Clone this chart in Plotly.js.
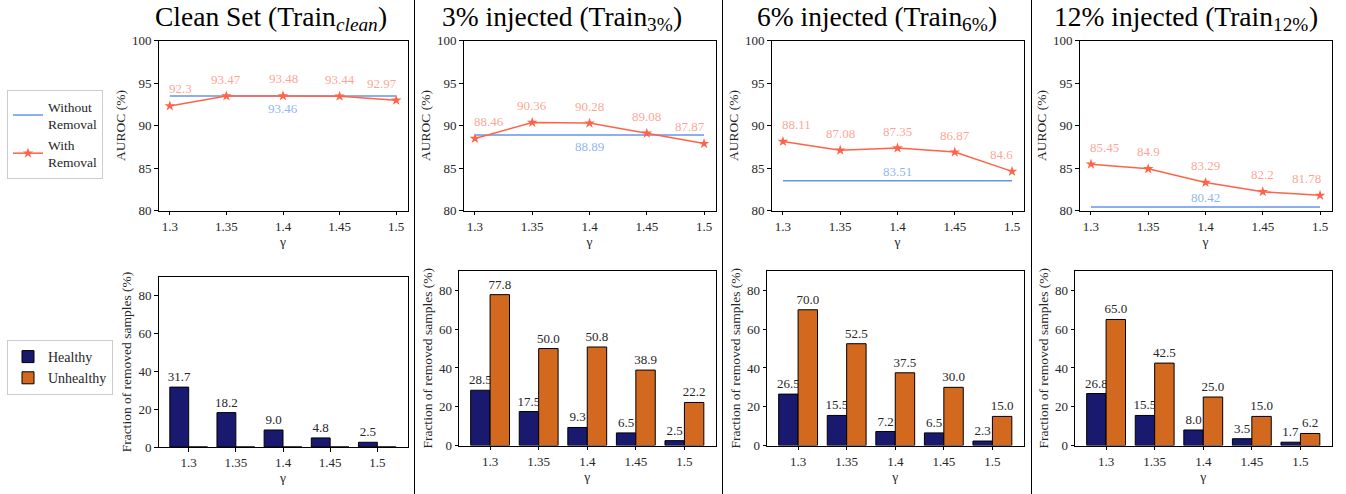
<!DOCTYPE html>
<html>
<head>
<meta charset="utf-8">
<script src="https://cdn.plot.ly/plotly-3.0.1.min.js"></script>
<style>html,body{margin:0;padding:0;background:#fff;}#chart{width:1346px;height:494px;}</style>
</head>
<body>
<div id="chart"></div>
<script>
// ---- data ----
const gammas = [1.3, 1.35, 1.4, 1.45, 1.5];
const gammaLabels = ['1.3', '1.35', '1.4', '1.45', '1.5'];
const titleMain = ['Clean Set (Train', '3% injected (Train', '6% injected (Train', '12% injected (Train'];
const titleSub = ['clean', '3%', '6%', '12%'];
const titleSubItalic = [true, false, false, false];
const titleEnd = [')', ')', ')', ')'];
const withoutRemoval = [93.46, 88.89, 83.51, 80.42];
const withRemovalClean = [92.3, 93.47, 93.48, 93.44, 92.97];
const withRemoval3 = [88.46, 90.36, 90.28, 89.08, 87.87];
const withRemoval6 = [88.11, 87.08, 87.35, 86.87, 84.6];
const withRemoval12 = [85.45, 84.9, 83.29, 82.2, 81.78];
const healthyClean = [31.7, 18.2, 9.0, 4.8, 2.5];
const unhealthyClean = [0, 0, 0, 0, 0];
const healthy3 = [28.5, 17.5, 9.3, 6.5, 2.5];
const unhealthy3 = [77.8, 50.0, 50.8, 38.9, 22.2];
const healthy6 = [26.5, 15.5, 7.2, 6.5, 2.3];
const unhealthy6 = [70.0, 52.5, 37.5, 30.0, 15.0];
const healthy12 = [26.8, 15.5, 8.0, 3.5, 1.7];
const unhealthy12 = [65.0, 42.5, 25.0, 15.0, 6.2];
const aurocTicks = [80, 85, 90, 95, 100];
const fracTicks = [0, 20, 40, 60, 80];

const withRemoval = [withRemovalClean, withRemoval3, withRemoval6, withRemoval12];
const healthy = [healthyClean, healthy3, healthy6, healthy12];
const unhealthy = [unhealthyClean, unhealthy3, unhealthy6, unhealthy12];

// ---- styling / layout ----
const W = 1346, H = 494;
const FAMILY = 'Liberation Serif';
const FONT = '"Liberation Serif", "Times New Roman", serif';
const BLUE = '#6495ED', ORANGE = '#FF6347';
const BLUE_T = 'rgba(100,149,237,0.72)', ORANGE_T = 'rgba(255,99,71,0.6)';
const NAVY = '#191970', CHOC = '#D2691E';
const TXT = '#262626';
const TITLE_SIZE = 27.5, SUB_SIZE = 19.25;
const px = v => v / W;
const py = v => 1 - v / H;

const topX = [[158.5, 407.5], [463.5, 715.5], [771.5, 1023.5], [1079.5, 1331.5]];
const botX = [[158.5, 407.5], [459, 715.5], [767, 1023.5], [1075, 1331.5]];
const topY = [40.5, 210.5];
const botY = [[277, 447], [271, 445.5], [271, 445.5], [271, 445.5]];
const titleCX = [270, 561, 876, 1185];
const sepX = [414.5, 722.5, 1031.5];

const ctx = document.createElement('canvas').getContext('2d');
function textWidth(s, size, italic) {
  ctx.font = (italic ? 'italic ' : '') + size + 'px "' + FAMILY + '", serif';
  return ctx.measureText(s).width;
}

const traces = [];
const layout = {
  width: W, height: H,
  margin: {l: 0, r: 0, t: 0, b: 0},
  paper_bgcolor: '#fff', plot_bgcolor: '#fff',
  font: {family: FONT, size: 13, color: TXT},
  barmode: 'group', bargap: 0.2, bargroupgap: 0,
  annotations: [], shapes: [],
  legend: {
    x: px(7), y: py(90), xanchor: 'left', yanchor: 'top',
    bordercolor: '#cccccc', borderwidth: 1, bgcolor: '#fff',
    font: {family: FONT, size: 13.5, color: TXT}, tracegroupgap: 0
  },
  legend2: {
    x: px(7), y: py(340), xanchor: 'left', yanchor: 'top',
    bordercolor: '#cccccc', borderwidth: 1, bgcolor: '#fff',
    font: {family: FONT, size: 14, color: TXT}, tracegroupgap: 0
  },
  showlegend: true
};

function axisCommon() {
  return {
    showline: true, mirror: true, linecolor: '#000', linewidth: 1,
    ticks: 'outside', ticklen: 3.5, tickcolor: '#000', tickwidth: 1,
    showgrid: false, zeroline: false, fixedrange: true,
    tickfont: {family: FONT, size: 13, color: TXT}
  };
}

for (let p = 0; p < 4; p++) {
  const tIdx = 2 * p + 1, bIdx = 2 * p + 2;
  const tx = 'x' + (tIdx === 1 ? '' : tIdx), ty = 'y' + (tIdx === 1 ? '' : tIdx);
  const bx = 'x' + bIdx, by = 'y' + bIdx;
  const txKey = 'xaxis' + (tIdx === 1 ? '' : tIdx), tyKey = 'yaxis' + (tIdx === 1 ? '' : tIdx);
  const bxKey = 'xaxis' + bIdx, byKey = 'yaxis' + bIdx;

  // top: AUROC lines
  traces.push({
    type: 'scatter', mode: 'lines', x: gammas, y: gammas.map(() => withoutRemoval[p]),
    xaxis: tx, yaxis: ty, line: {color: BLUE, width: 1.5},
    name: 'Without<br>Removal', showlegend: p === 0, legend: 'legend', hoverinfo: 'skip'
  });
  traces.push({
    type: 'scatter', mode: 'lines+markers', x: gammas, y: withRemoval[p],
    xaxis: tx, yaxis: ty, line: {color: ORANGE, width: 1.5},
    marker: {symbol: 'star', size: 8, color: ORANGE},
    name: 'With<br>Removal', showlegend: p === 0, legend: 'legend', hoverinfo: 'skip'
  });

  layout[txKey] = Object.assign(axisCommon(), {
    domain: [px(topX[p][0]), px(topX[p][1])], anchor: ty,
    range: [1.29, 1.51], tickvals: gammas, ticktext: gammaLabels,
    title: {text: 'γ', font: {family: FONT, size: 13.5, color: TXT}, standoff: 2}
  });
  layout[tyKey] = Object.assign(axisCommon(), {
    domain: [py(topY[1]), py(topY[0])], anchor: tx,
    range: [80, 100], tickvals: aurocTicks,
    title: {text: 'AUROC (%)', font: {family: FONT, size: 13.5, color: TXT}, standoff: 3}
  });

  // value labels on the orange series
  withRemoval[p].forEach((v, i) => {
    const first = i === 0, last = i === gammas.length - 1;
    layout.annotations.push({
      xref: tx, yref: ty, x: gammas[i], y: v, text: String(v),
      showarrow: false, yshift: 17, yanchor: 'middle',
      xanchor: first ? 'left' : (last ? 'right' : 'center'),
      xshift: first ? -3 : (last ? 3 : 0),
      font: {family: FONT, size: 13, color: ORANGE_T}
    });
  });
  const below = withoutRemoval[p] > Math.min(...withRemoval[p]);
  layout.annotations.push({
    xref: tx, yref: ty, x: gammas[2], y: withoutRemoval[p], text: withoutRemoval[p].toFixed(2),
    showarrow: false, yanchor: 'middle', yshift: below ? -12 : 9,
    font: {family: FONT, size: 13, color: BLUE_T}
  });

  // bottom: bars
  const hTrace = {
    type: 'bar', x: gammaLabels, y: healthy[p], xaxis: bx, yaxis: by,
    marker: {color: NAVY, line: {color: '#000', width: 1}},
    name: 'Healthy', showlegend: p === 0, legend: 'legend2', hoverinfo: 'skip',
    text: healthy[p].map(v => v.toFixed(1)),
    textposition: 'outside', constraintext: 'none', cliponaxis: false,
    textfont: {family: FONT, size: 13, color: TXT}
  };
  const uTrace = {
    type: 'bar', x: gammaLabels, y: unhealthy[p], xaxis: bx, yaxis: by,
    marker: {color: CHOC, line: {color: '#000', width: 1}},
    name: 'Unhealthy', showlegend: p === 0, legend: 'legend2', hoverinfo: 'skip'
  };
  if (Math.max(...unhealthy[p]) > 0) {
    Object.assign(uTrace, {
      text: unhealthy[p].map(v => v.toFixed(1)),
      textposition: 'outside', constraintext: 'none', cliponaxis: false,
      textfont: {family: FONT, size: 13, color: TXT}
    });
  }
  traces.push(hTrace, uTrace);

  layout[bxKey] = Object.assign(axisCommon(), {
    domain: [px(botX[p][0]), px(botX[p][1])], anchor: by,
    type: 'category', range: [-0.64, 4.64],
    title: {text: 'γ', font: {family: FONT, size: 13.5, color: TXT}, standoff: 3}
  });
  layout[byKey] = Object.assign(axisCommon(), {
    domain: [py(botY[p][1]), py(botY[p][0])], anchor: bx,
    range: [0, 90], tickvals: fracTicks,
    title: {text: 'Fraction of removed samples (%)', font: {family: FONT, size: 13.5, color: TXT}, standoff: 3}
  });

  // panel title: main text + subscript + closing parenthesis
  const wMain = textWidth(titleMain[p], TITLE_SIZE, false);
  const wSub = textWidth(titleSub[p], SUB_SIZE, titleSubItalic[p]);
  const wEnd = textWidth(titleEnd[p], TITLE_SIZE, false);
  const left = titleCX[p] - (wMain + wSub + wEnd) / 2;
  layout.annotations.push({
    xref: 'paper', yref: 'paper', x: px(left), y: 1, xanchor: 'left', yanchor: 'top',
    text: titleMain[p], showarrow: false, borderpad: 0,
    font: {family: FONT, size: TITLE_SIZE, color: '#000'}
  });
  layout.annotations.push({
    xref: 'paper', yref: 'paper', x: px(left + wMain), y: 1, xanchor: 'left', yanchor: 'top',
    yshift: -13, text: titleSub[p], showarrow: false, borderpad: 0,
    font: {family: FONT, size: SUB_SIZE, color: '#000', style: titleSubItalic[p] ? 'italic' : 'normal'}
  });
  layout.annotations.push({
    xref: 'paper', yref: 'paper', x: px(left + wMain + wSub), y: 1, xanchor: 'left', yanchor: 'top',
    text: titleEnd[p], showarrow: false, borderpad: 0,
    font: {family: FONT, size: TITLE_SIZE, color: '#000'}
  });
}

sepX.forEach(x => layout.shapes.push({
  type: 'line', xref: 'paper', yref: 'paper', x0: px(x), x1: px(x), y0: 0, y1: 1,
  line: {color: '#000', width: 1}
}));

Plotly.newPlot('chart', traces, layout, {staticPlot: true, displayModeBar: false});
</script>
</body>
</html>
